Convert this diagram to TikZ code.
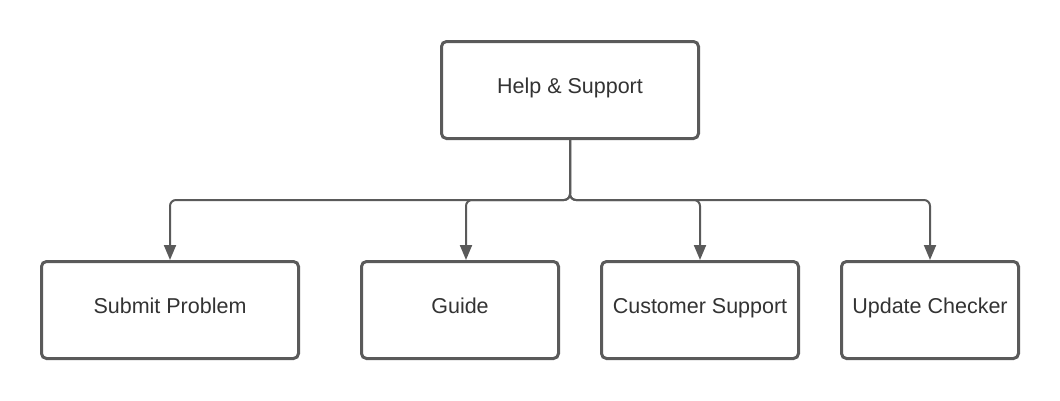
\documentclass[tikz,border=0pt]{standalone}
\usepackage{fontspec}
\setmainfont{Liberation Sans}
\usetikzlibrary{arrows.meta}
\definecolor{edge}{HTML}{5A5A5A}
\definecolor{txt}{HTML}{333333}
\begin{document}
\begin{tikzpicture}[x=1pt,y=-1pt,
  box/.style={draw=edge,line width=3pt,rounded corners=5pt,fill=white,
    text=txt,font=\fontsize{21.5}{26}\selectfont,inner sep=0pt,
    text height=14pt,text depth=7.5pt},
  topbox/.style={box,text height=14pt,text depth=8pt},
  link/.style={draw=edge,line width=2pt,rounded corners=6pt,
    -{Triangle[length=15pt,width=12pt]}}]
\useasboundingbox (0,0) rectangle (1060,400);
\node[topbox,minimum width=257pt,minimum height=97pt] (help) at (570,90) {Help \& Support};
\node[box,minimum width=257pt,minimum height=97pt] (submit) at (170,310) {Submit Problem};
\node[box,minimum width=197pt,minimum height=97pt] (guide) at (460,310) {Guide};
\node[box,minimum width=197pt,minimum height=97pt] (cust) at (700,310) {Customer Support};
\node[box,minimum width=177pt,minimum height=97pt] (upd) at (930,310) {Update Checker};
\coordinate (j) at (570,200);
\draw[link] (help.south) -- (j) -| (submit.north);
\draw[link] (help.south) -- (j) -| ([xshift=6pt]guide.north);
\draw[link] (help.south) -- (j) -| (cust.north);
\draw[link] (help.south) -- (j) -| (upd.north);
\end{tikzpicture}
\end{document}
